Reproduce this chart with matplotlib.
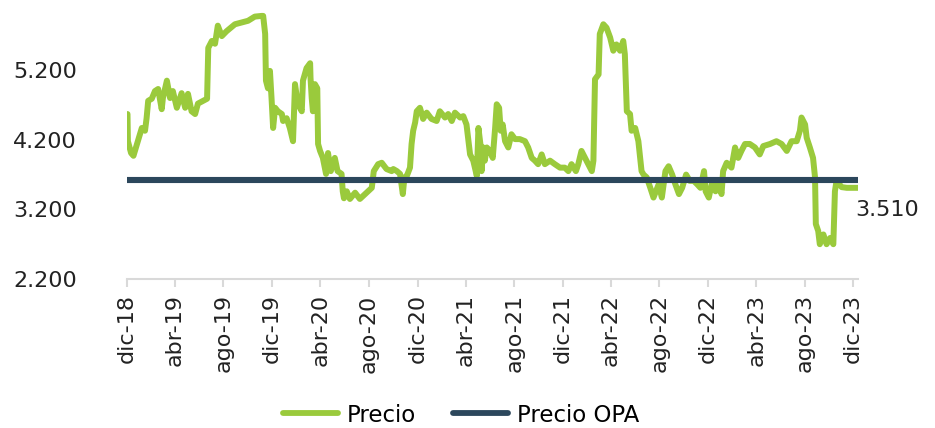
import matplotlib
matplotlib.use("Agg")
import matplotlib.pyplot as plt
import matplotlib.ticker as mticker
import pandas as pd

plt.rcParams['font.family'] = ['DejaVu Sans']

# ---- data ----
dates = [
    "2018-12-03", "2018-12-04", "2018-12-12", "2018-12-18", "2018-12-29",
    "2019-01-08", "2019-01-16", "2019-01-20", "2019-01-24", "2019-02-02",
    "2019-02-10", "2019-02-18", "2019-02-27", "2019-03-02", "2019-03-12",
    "2019-03-20", "2019-03-27", "2019-04-06", "2019-04-18", "2019-04-27",
    "2019-05-04", "2019-05-13", "2019-05-22", "2019-05-29", "2019-06-11",
    "2019-06-21", "2019-06-24", "2019-07-03", "2019-07-11", "2019-07-18",
    "2019-07-28", "2019-08-09", "2019-08-30", "2019-10-02", "2019-10-19",
    "2019-11-05", "2019-11-09", "2019-11-14", "2019-11-16", "2019-11-21",
    "2019-11-26", "2019-11-30", "2019-12-04", "2019-12-09", "2019-12-16",
    "2019-12-26", "2019-12-29", "2020-01-07", "2020-01-15", "2020-01-23",
    "2020-01-28", "2020-02-04", "2020-02-14", "2020-02-17", "2020-02-26",
    "2020-03-06", "2020-03-07", "2020-03-10", "2020-03-13", "2020-03-18",
    "2020-03-24", "2020-03-26", "2020-03-31", "2020-04-07", "2020-04-15",
    "2020-04-20", "2020-04-27", "2020-05-07", "2020-05-14", "2020-05-24",
    "2020-05-27", "2020-05-30", "2020-06-06", "2020-06-14", "2020-06-27",
    "2020-07-09", "2020-07-26", "2020-08-08", "2020-08-13", "2020-08-24",
    "2020-09-02", "2020-09-14", "2020-09-27", "2020-10-01", "2020-10-10",
    "2020-10-18", "2020-10-25", "2020-10-29", "2020-11-04", "2020-11-12",
    "2020-11-16", "2020-11-20", "2020-11-25", "2020-11-29", "2020-12-07",
    "2020-12-15", "2020-12-24", "2021-01-05", "2021-01-18", "2021-01-26",
    "2021-02-08", "2021-02-16", "2021-02-25", "2021-03-05", "2021-03-18",
    "2021-03-26", "2021-04-03", "2021-04-07", "2021-04-12", "2021-04-20",
    "2021-04-29", "2021-05-03", "2021-05-09", "2021-05-11", "2021-05-15",
    "2021-05-19", "2021-05-24", "2021-06-01", "2021-06-08", "2021-06-14",
    "2021-06-18", "2021-06-24", "2021-06-28", "2021-07-03", "2021-07-09",
    "2021-07-17", "2021-07-25", "2021-08-03", "2021-08-15", "2021-08-28",
    "2021-09-05", "2021-09-14", "2021-09-22", "2021-09-30", "2021-10-09",
    "2021-10-17", "2021-10-30", "2021-11-11", "2021-11-24", "2021-12-06",
    "2021-12-15", "2021-12-23", "2022-01-03", "2022-01-09", "2022-01-17",
    "2022-01-26", "2022-02-03", "2022-02-12", "2022-02-16", "2022-02-20",
    "2022-03-01", "2022-03-04", "2022-03-13", "2022-03-21", "2022-03-30",
    "2022-04-07", "2022-04-15", "2022-04-24", "2022-05-02", "2022-05-06",
    "2022-05-11", "2022-05-19", "2022-05-23", "2022-06-01", "2022-06-09",
    "2022-06-17", "2022-06-22", "2022-06-30", "2022-07-09", "2022-07-17",
    "2022-07-30", "2022-08-07", "2022-08-16", "2022-08-24", "2022-09-02",
    "2022-09-10", "2022-09-19", "2022-09-27", "2022-10-07", "2022-10-16",
    "2022-10-26", "2022-11-04", "2022-11-12", "2022-11-21", "2022-11-25",
    "2022-12-03", "2022-12-12", "2022-12-20", "2022-12-27", "2023-01-04",
    "2023-01-08", "2023-01-17", "2023-01-29", "2023-02-07", "2023-02-15",
    "2023-02-23", "2023-03-04", "2023-03-16", "2023-03-29", "2023-04-10",
    "2023-04-19", "2023-05-06", "2023-05-22", "2023-06-04", "2023-06-17",
    "2023-06-29", "2023-07-12", "2023-07-20", "2023-07-24", "2023-08-02",
    "2023-08-06", "2023-08-14", "2023-08-22", "2023-08-27", "2023-08-29",
    "2023-09-04", "2023-09-08", "2023-09-17", "2023-09-25", "2023-10-04",
    "2023-10-12", "2023-10-16", "2023-10-20", "2023-11-02", "2023-11-15",
    "2023-12-13",
]
precio = [
    4570, 4180, 4010, 3970, 4180,
    4370, 4330, 4510, 4760, 4790,
    4900, 4930, 4640, 4800, 5050,
    4800, 4900, 4660, 4870, 4660,
    4860, 4610, 4570, 4720, 4760,
    4790, 5520, 5620, 5580, 5840,
    5690, 5760, 5860, 5910, 5970,
    5980, 5980, 5720, 5050, 4940,
    5190, 4800, 4370, 4660, 4610,
    4570, 4470, 4510, 4370, 4180,
    5000, 4720, 4610, 5050, 5230,
    5300, 5090, 4800, 4610, 5000,
    4940, 4140, 4040, 3940, 3710,
    4010, 3750, 3940, 3750, 3710,
    3460, 3360, 3460, 3350, 3440,
    3350, 3440, 3510, 3750, 3850,
    3870, 3780, 3750, 3780, 3750,
    3710, 3420, 3660, 3680, 3800,
    4140, 4330, 4450, 4610, 4660,
    4500, 4590, 4500, 4470, 4610,
    4520, 4570, 4470, 4590, 4520,
    4540, 4420, 4230, 3990, 3900,
    3680, 4370, 4090, 3750, 4090,
    3900, 4090, 4040, 3940, 4370,
    4710, 4660, 4330, 4420, 4180,
    4090, 4280, 4210, 4210, 4180,
    4090, 3940, 3900, 3850, 3990,
    3850, 3900, 3850, 3800, 3800,
    3750, 3850, 3750, 3850, 4040,
    3940, 3850, 3750, 3900, 5070,
    5140, 5720, 5860, 5810, 5670,
    5480, 5570, 5480, 5620, 5430,
    4610, 4570, 4330, 4370, 4180,
    3750, 3700, 3660, 3510, 3370,
    3560, 3370, 3750, 3820, 3700,
    3560, 3420, 3510, 3700, 3610,
    3610, 3560, 3510, 3750, 3460,
    3370, 3610, 3460, 3560, 3420,
    3750, 3870, 3800, 4090, 3940,
    4040, 4140, 4140, 4090, 3990,
    4110, 4140, 4180, 4140, 4040,
    4180, 4180, 4330, 4520, 4420,
    4230, 4090, 3940, 3660, 2990,
    2890, 2700, 2840, 2700, 2790,
    2700, 3460, 3610, 3520, 3510,
    3510,
]
precio_opa = 3620
opa_dates = ["2018-12-03", "2023-12-13"]
tick_dates = pd.date_range("2018-12-01", "2023-12-01", freq="4MS")
month_abbr = {1: "ene", 2: "feb", 3: "mar", 4: "abr", 5: "may", 6: "jun",
              7: "jul", 8: "ago", 9: "sep", 10: "oct", 11: "nov", 12: "dic"}
tick_labels = [f"{month_abbr[d.month]}-{d.strftime('%y')}" for d in tick_dates]
y_ticks = [2200, 3200, 4200, 5200]
series_names = ["Precio", "Precio OPA"]

GREEN = "#9aca3c"
NAVY = "#2c475c"
GRID = "#d9d9d9"

x = pd.to_datetime(dates)
xo = pd.to_datetime(opa_dates)

fig = plt.figure(figsize=(9.35, 4.28), dpi=100)
ax = fig.add_axes([126.7 / 935, 1 - 279 / 428, (858 - 126.7) / 935, (279 - 0.6) / 428])

ax.plot(x, precio, color=GREEN, lw=4.3, solid_joinstyle="round",
        solid_capstyle="round", label=series_names[0], zorder=2)
ax.plot(xo, [precio_opa, precio_opa], color=NAVY, lw=4.4,
        solid_capstyle="round", label=series_names[1], zorder=3)

ax.set_xlim(x[0], x[-1])
ax.set_ylim(2200, 6200)

ax.set_xticks(tick_dates)
ax.set_xticklabels(tick_labels, rotation=90, fontsize=16, color="#222222")
ax.set_yticks(y_ticks)
ax.yaxis.set_major_formatter(
    mticker.FuncFormatter(lambda v, p: f"{int(v):,}".replace(",", ".")))
ax.tick_params(axis="y", length=0, pad=36, labelsize=16, labelcolor="#222222")
ax.tick_params(axis="x", direction="out", length=6, width=1.5, color=GRID, pad=5)

for s in ["top", "right", "left"]:
    ax.spines[s].set_visible(False)
ax.spines["bottom"].set_color(GRID)
ax.spines["bottom"].set_linewidth(1.5)
ax.set_facecolor("none")

# end label
ax.annotate(f"{precio[-1]:,}".replace(",", "."), xy=(x[-1], precio[-1]),
            xytext=(-3, -22), textcoords="offset pixels",
            ha="left", va="center", fontsize=16, color="#222222",
            annotation_clip=False)

leg = fig.legend(loc="center", bbox_to_anchor=(461 / 935, 1 - 415 / 428),
                 ncol=2, frameon=False, fontsize=16.5, handlelength=2.4,
                 handletextpad=0.4, columnspacing=1.6, borderaxespad=0,
                 borderpad=0.2)
for h in leg.get_lines():
    h.set_linewidth(4.2)
    h.set_solid_capstyle("round")

fig.savefig("out.png", dpi=100)
